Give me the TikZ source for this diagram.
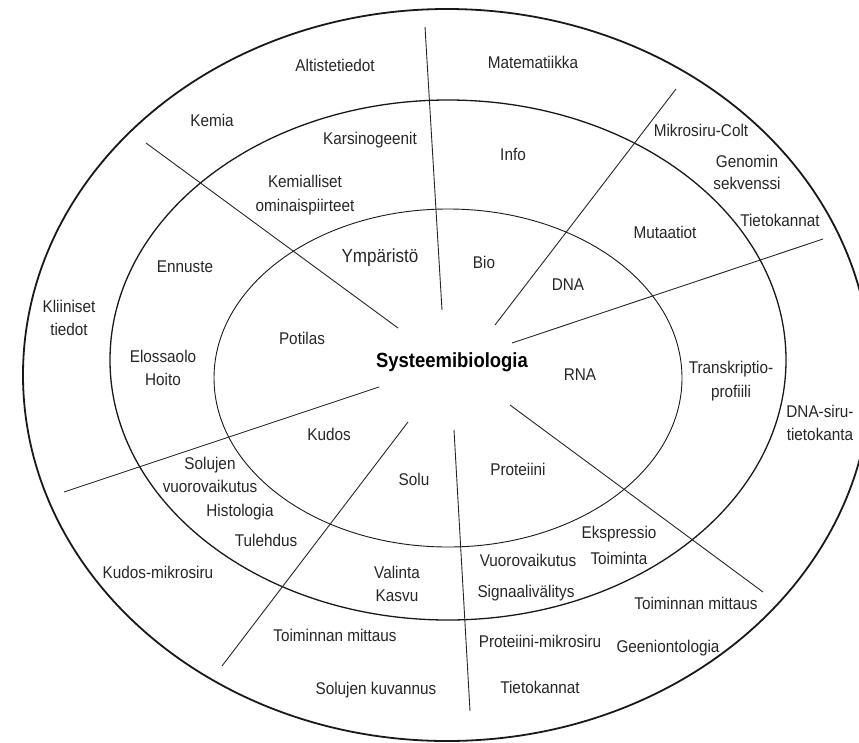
\documentclass[tikz,border=0pt]{standalone}
\usepackage{fontspec}
\setmainfont{Liberation Sans}[FakeStretch=0.9]
\usepackage{tikz}
\tikzset{ring/.style={draw=black!90}, spoke/.style={draw=black!85, line width=0.9pt},
  field/.style={text=black!85, align=center, font=\fontsize{17}{23.5}\selectfont, inner sep=0pt}}

\begin{document}
\begin{tikzpicture}[x=1pt, y=-1pt]
      \useasboundingbox (0, 0) rectangle (859, 742);
      \clip (0, 0) rectangle (859, 742);

      \draw[ring, line width=1.8pt] (447, 375) ellipse [x radius=424pt, y radius=366pt];
      \draw[ring, line width=1.3pt] (448, 360) ellipse [x radius=338pt, y radius=260pt];
      \draw[ring, line width=0.9pt] (448, 378) ellipse [x radius=234pt, y radius=169pt];

      \draw[spoke] (398, 328) -- (146, 143);
      \draw[spoke] (442, 310) -- (425, 27);
      \draw[spoke] (495, 325) -- (676, 89);
      \draw[spoke] (512, 343) -- (823, 239);
      \draw[spoke] (510, 405) -- (763, 592);
      \draw[spoke] (454, 430) -- (470, 711);
      \draw[spoke] (408, 422) -- (222, 666);
      \draw[spoke] (379, 387) -- (64, 492);

      \node[field, font=\bfseries\fontsize{20.5}{24}\selectfont, text=black] (systeemi) at (452, 362) {Systeemibiologia};

      \node[field, font=\fontsize{19}{23}\selectfont] (ymparisto) at (380, 258) {Ympäristö};
      \node[field] (bio) at (484, 262) {Bio};
      \node[field] (dna) at (568, 285) {DNA};
      \node[field] (potilas) at (302, 338) {Potilas};
      \node[field] (rna) at (580, 375) {RNA};
      \node[field] (kudos) at (329, 434) {Kudos};
      \node[field] (solu) at (414, 479) {Solu};
      \node[field] (proteiini) at (518, 469) {Proteiini};

      \node[field] (karsino) at (370, 140) {Karsinogeenit};
      \node[field] (kemialliset) at (305, 195) {Kemialliset\\ominaispiirteet};
      \node[field] (info) at (513, 154) {Info};
      \node[field] (mutaatiot) at (665, 232) {Mutaatiot};
      \node[field] (ennuste) at (185, 267) {Ennuste};
      \node[field] (elossaolo) at (163, 368) {Elossaolo\\Hoito};
      \node[field] (transkriptio) at (731, 381) {Transkriptio-\\profiili};
      \node[field] (solujen) at (210, 475) {Solujen\\vuorovaikutus};
      \node[field] (histologia) at (240, 512) {Histologia};
      \node[field] (tulehdus) at (266, 540) {Tulehdus};
      \node[field] (valinta) at (397, 584) {Valinta\\Kasvu};
      \node[field] (vuoro) at (528, 560) {Vuorovaikutus};
      \node[field] (signaali) at (526, 593) {Signaalivälitys};
      \node[field, font=\fontsize{17}{26}\selectfont] (ekspressio) at (619, 545) {Ekspressio\\Toiminta};

      \node[field] (altiste) at (335, 65) {Altistetiedot};
      \node[field] (kemia) at (212, 120) {Kemia};
      \node[field] (matematiikka) at (533, 62) {Matematiikka};
      \node[field] (mikrosiru) at (701, 130) {Mikrosiru-Colt};
      \node[field, font=\fontsize{17}{22}\selectfont] (genomi) at (747, 172) {Genomin\\sekvenssi};
      \node[field] (tietokannat1) at (780, 220) {Tietokannat};
      \node[field] (kliiniset) at (69, 318) {Kliiniset\\tiedot};
      \node[field] (dnasiru) at (820, 423) {DNA-siru-\\tietokanta};
      \node[field] (kudosmikro) at (158, 572) {Kudos-mikrosiru};
      \node[field] (mittaus1) at (335, 635) {Toiminnan mittaus};
      \node[field] (kuvannus) at (376, 690) {Solujen kuvannus};
      \node[field] (mittaus2) at (696, 603) {Toiminnan mittaus};
      \node[field] (protmikro) at (540, 641) {Proteiini-mikrosiru};
      \node[field] (geeni) at (668, 648) {Geeniontologia};
      \node[field] (tietokannat2) at (540, 687) {Tietokannat};
    \end{tikzpicture}
\end{document}
